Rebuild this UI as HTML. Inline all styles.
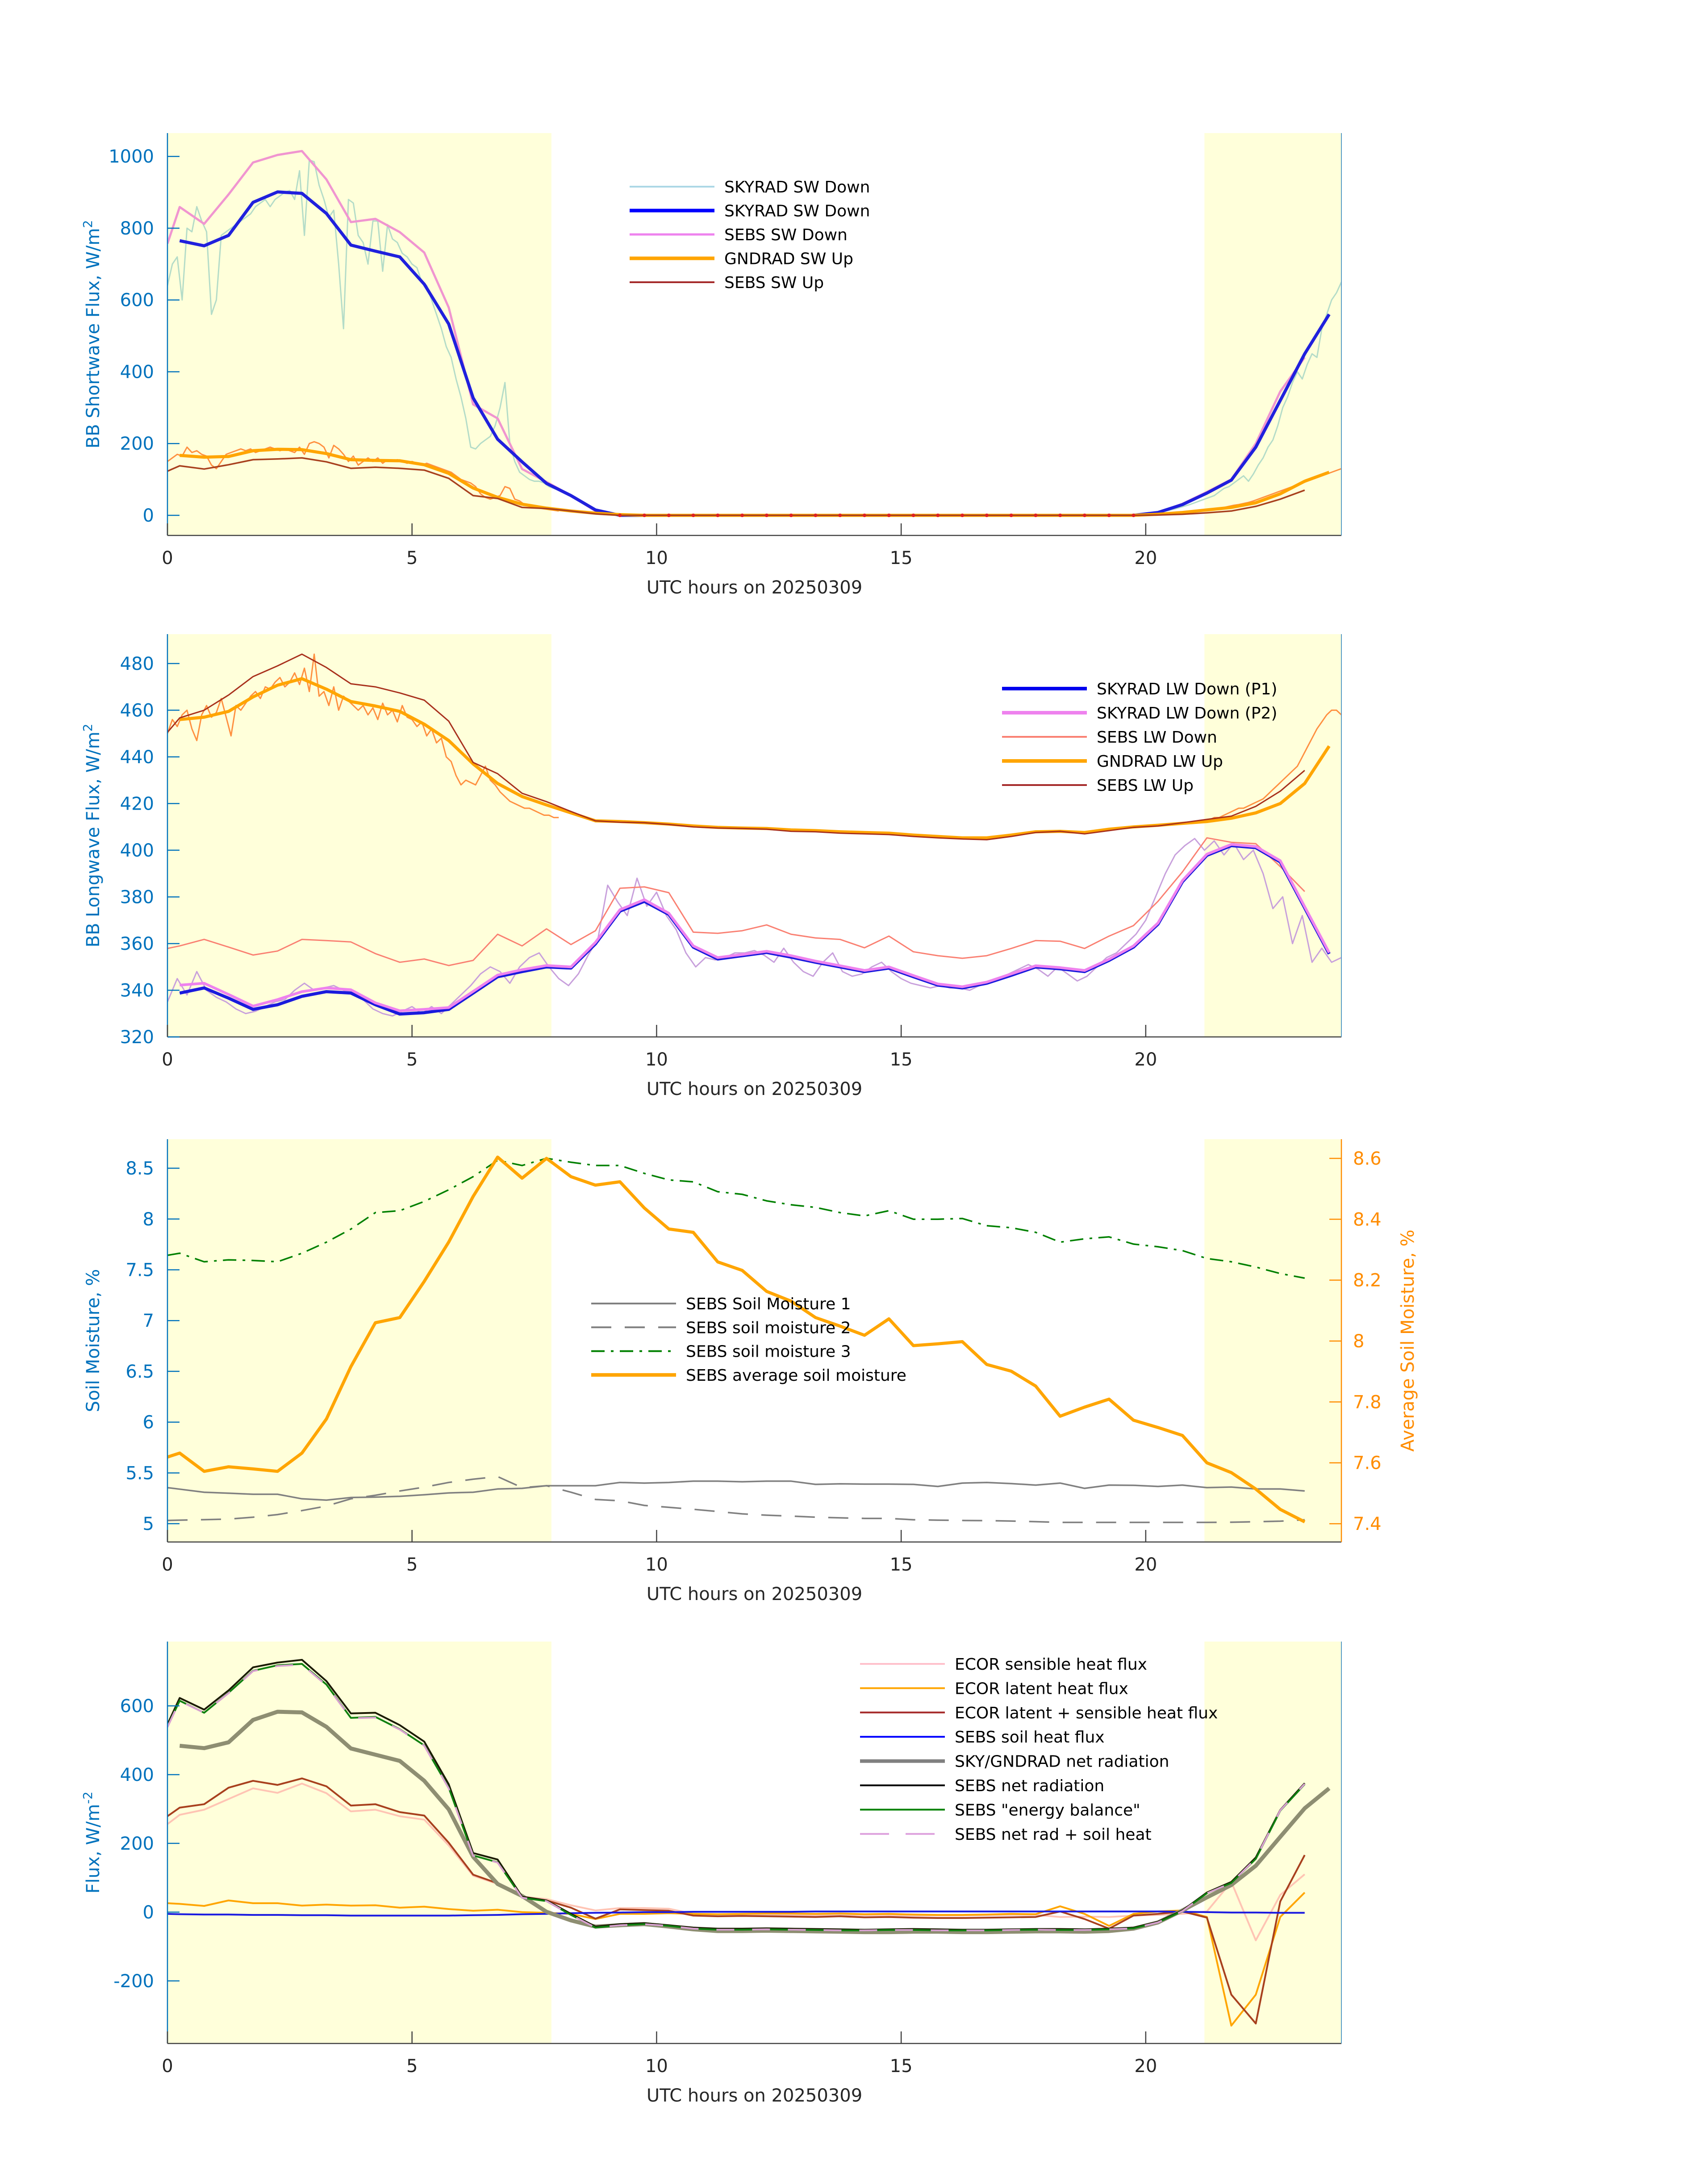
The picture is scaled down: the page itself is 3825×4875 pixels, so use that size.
<!DOCTYPE html>
<html><head><meta charset="utf-8"><style>
html,body{margin:0;padding:0;background:#fff;}
svg{display:block;font-family:"DejaVu Sans","Liberation Sans",sans-serif;}
</style></head><body>
<svg id="fig" xmlns="http://www.w3.org/2000/svg" width="3825" height="4875" viewBox="0 0 3825 4875"></svg>
<script>
// ---------- Panel 1: shortwave ----------
const sw_noisy_day = [640,700,720,600,800,790,860,820,790,560,600,780,790,800,810,820,830,840,860,870,880,860,880,890,900,905,880,960,780,990,985,920,880,830,850,700,520,880,870,780,760,700,820,820,680,810,770,760,730,720,700,690,650,640,600,560,520,470,440,380,330,270,190,185,200,210,220,250,300,370,200,150,120,110,100,95,95,90,80,75,70];
const sw_noisy_eve = [5,6,8,10,12,15,18,22,26,30,35,40,45,50,55,65,75,80,90,100,110,95,115,140,160,190,210,250,300,330,370,400,380,420,450,440,520,560,600,620,650];
const swup_noisy_day = [150,160,170,165,190,175,180,170,165,140,130,150,170,175,180,185,180,185,175,180,185,190,185,180,185,180,175,190,170,200,205,200,190,160,195,185,170,150,165,140,150,160,150,160,145,155,150,155,150,145,150,145,140,145,140,135,130,125,120,110,100,95,90,80,60,50,45,50,55,80,75,45,40,30,25,22,20,18,16,14,12];
const swup_noisy_eve = [2,2,3,3,4,5,5,6,8,10,12,14,15,16,18,20,22,25,28,30,33,36,40,45,50,55,60,65,70,75,80,85,90,95,100,105,110,115,120,125,130];
const hoursA = [0.25,0.75,1.25,1.75,2.25,2.75,3.25,3.75,4.25,4.75,5.25,5.75,6.25,6.75,7.25,7.75,8.25,8.75,9.25,9.75,10.25,10.75,11.25,11.75,12.25,12.75,13.25,13.75,14.25,14.75,15.25,15.75,16.25,16.75,17.25,17.75,18.25,18.75,19.25,19.75,20.25,20.75,21.25,21.75,22.25,22.75,23.25,23.75];
const hoursB = [0,0.25,0.75,1.25,1.75,2.25,2.75,3.25,3.75,4.25,4.75,5.25,5.75,6.25,6.75,7.25,7.75,8.25,8.75,9.25,9.75,10.25,10.75,11.25,11.75,12.25,12.75,13.25,13.75,14.25,14.75,15.25,15.75,16.25,16.75,17.25,17.75,18.25,18.75,19.25,19.75,20.25,20.75,21.25,21.75,22.25,22.75,23.25];
const skyrad_sw_down = [765,751,780,872,901,897,841,753,736,720,644,533,327,212,149,89,55,15,0,0,0,0,0,0,0,0,0,0,0,0,0,0,0,0,0,0,0,0,0,0,8,30,62,98,190,320,450,560];
const sebs_sw_down = [757,859,812,894,983,1004,1015,936,817,826,789,732,579,309,270,129,93,55,12,0,0,0,0,0,0,0,0,0,0,0,0,0,0,0,0,0,0,0,0,0,0,8,32,65,100,200,345,440];
const gndrad_sw_up = [167,162,164,180,184,183,172,155,153,152,141,117,76,50,31,20,12,6,2,0,0,0,0,0,0,0,0,0,0,0,0,0,0,0,0,0,0,0,0,0,3,8,15,22,35,60,95,120];
const sebs_sw_up = [123,138,129,141,155,157,160,149,131,134,131,126,103,55,47,22,19,12,4,0,0,0,0,0,0,0,0,0,0,0,0,0,0,0,0,0,0,0,0,0,0,1,3,7,12,25,45,70];
const sw_ticks = [0,200,400,600,800,1000];

// ---------- Panel 2: longwave ----------
const lw_noisy = [335,345,338,348,340,337,335,332,330,331,333,335,336,340,343,340,341,342,340,339,336,332,330,329,331,333,330,333,330,334,338,342,347,350,348,343,350,354,356,350,345,342,347,355,362,385,378,372,388,376,382,372,366,356,350,354,353,354,356,356,357,355,352,358,352,348,346,352,356,348,346,347,350,352,348,345,343,342,341,342,341,341,340,342,343,345,347,349,351,349,346,350,347,344,346,350,354,356,360,364,370,380,390,398,402,405,400,404,398,403,396,400,390,375,380,360,372,352,358,352,354];
const lwup_noisy_day = [450,456,453,458,460,452,447,458,462,457,459,465,457,449,462,460,463,466,468,465,470,469,472,474,470,472,476,471,478,468,484,466,468,462,470,460,466,464,462,460,462,458,461,456,463,458,460,455,462,457,456,453,455,449,452,446,448,440,438,432,428,430,429,428,432,436,430,428,425,423,421,420,419,418,418,417,416,415,415,414,414];
const lwup_noisy_eve = [412,412,413,413,414,414,415,416,417,418,418,419,420,421,422,424,426,428,430,432,434,436,440,444,448,452,455,458,460,460,458];
const skyrad_lw_p1 = [338.8,341,336.6,331.8,333.8,337.4,339.4,338.8,333.8,329.8,330.4,331.8,338.8,345.8,348,350,349.5,359.9,373.9,378.1,372.5,358.5,353.4,354.8,356.2,354.2,352,350,348,349.5,345.8,342.2,341,343,346.4,350,349.2,348,352.8,358.5,368.3,386.5,397.8,402,401.1,395,375.3,355.6];
const skyrad_lw_p2 = [342.2,343,338.2,333.2,336,339.4,341,340.2,334.6,331.2,331.8,332.6,339.5,346.5,348.8,350.6,350,360.5,374.5,378.8,373,359,354,355.3,356.7,354.8,352.5,350.5,348.5,350,346.3,342.7,341.5,343.5,347,350.5,349.7,348.5,353.3,359,368.8,387,398.3,402.5,401.6,395.5,375.8,356.1];
const sebs_lw_down = [357.9,359,361.8,358.5,355.1,356.8,361.8,361.3,360.7,355.7,352,353.4,350.6,352.8,364,359,366.3,359.6,365.5,383.7,384.3,381.8,364.9,364.4,365.5,368,364,362.4,361.8,358.2,363.2,356.5,354.8,353.7,354.8,357.9,361.3,361,357.9,363.2,367.7,378.1,390.7,405.3,403.4,402.8,393,382.3];
const gndrad_lw_up = [456,457,459.5,465.7,470.7,473.5,469,463.7,461.8,459.5,454,447,437,428.6,423,419.4,416,412.6,412.3,411.8,411.2,410.4,409.8,409.5,409.3,408.7,408.4,407.9,407.6,407.3,406.5,405.9,405.3,405.3,406.5,407.9,408.1,407.6,409,410,410.7,411.5,412.3,413.7,416,420,428.6,444.6];
const sebs_lw_up = [450.5,456.7,460,466.5,474.4,479,484,478.3,471.3,470,467.4,464.3,455.3,437.6,432.8,424.4,420.8,416.6,412.6,412,411.8,411,410,409.5,409.3,409,408.1,407.9,407.3,407,406.7,405.9,405.3,404.8,404.5,405.9,407.6,408.1,407,408.4,409.8,410.4,411.8,413.2,414.6,418.8,425.3,434.2];
const lw_ticks = [320,340,360,380,400,420,440,460,480];

// ---------- Panel 3: soil moisture ----------
const sm1 = [5.355,5.34,5.31,5.30,5.29,5.29,5.245,5.232,5.258,5.262,5.27,5.285,5.303,5.31,5.342,5.348,5.374,5.374,5.374,5.406,5.40,5.406,5.419,5.419,5.413,5.419,5.419,5.387,5.393,5.39,5.39,5.387,5.367,5.4,5.406,5.395,5.38,5.4,5.348,5.38,5.378,5.367,5.38,5.355,5.361,5.342,5.342,5.322];
const sm2 = [5.032,5.035,5.04,5.045,5.064,5.09,5.129,5.174,5.245,5.28,5.322,5.36,5.406,5.438,5.464,5.355,5.374,5.31,5.239,5.226,5.18,5.161,5.142,5.12,5.097,5.084,5.075,5.064,5.058,5.052,5.052,5.039,5.035,5.032,5.03,5.026,5.02,5.013,5.013,5.013,5.013,5.013,5.013,5.013,5.015,5.019,5.025,5.039];
const sm3 = [7.643,7.663,7.579,7.598,7.592,7.579,7.663,7.772,7.901,8.063,8.082,8.173,8.288,8.417,8.578,8.527,8.598,8.559,8.527,8.527,8.449,8.385,8.366,8.269,8.243,8.179,8.14,8.114,8.063,8.03,8.082,7.998,7.998,8.005,7.934,7.914,7.869,7.772,7.805,7.824,7.753,7.727,7.689,7.611,7.579,7.527,7.463,7.418];
const sm_avg = [7.619,7.632,7.572,7.587,7.58,7.572,7.632,7.744,7.916,8.06,8.077,8.196,8.325,8.475,8.604,8.535,8.6,8.54,8.512,8.523,8.437,8.368,8.357,8.26,8.232,8.163,8.131,8.077,8.049,8.019,8.073,7.985,7.991,7.998,7.923,7.901,7.852,7.753,7.783,7.809,7.74,7.716,7.69,7.6,7.568,7.514,7.447,7.406];
const sm_ticks = [5,5.5,6,6.5,7,7.5,8,8.5];
const sm_tick_labels = ["5","5.5","6","6.5","7","7.5","8","8.5"];
const avg_ticks = [7.4,7.6,7.8,8,8.2,8.4,8.6];
const avg_tick_labels = ["7.4","7.6","7.8","8","8.2","8.4","8.6"];

// ---------- Panel 4: fluxes ----------
const ecor_sensible = [256,283,298,329,360,347,374,346,293,298,279,269,194,106,82,45,38,20,5,12,12,10,-5,-6,-6,-7,-8,-9,-8,-9,-9,-10,-10,-10,-9,-8,-8,-14,-13,-14,-10,-8,-5,2,88,-82,50,110];
const ecor_latent = [26,24,18,34,26,26,19,22,19,20,13,16,9,4,7,0,-2,-5,-20,-5,-5,-3,-5,-6,-5,-4,-4,-5,-4,-6,-5,-7,-8,-8,-7,-5,-6,17,-5,-40,-5,2,5,-14,-330,-240,-14,57];
const ecor_total = [279,304,314,362,382,370,389,366,310,314,291,281,202,109,84,45,34,13,-19,8,6,4,-10,-12,-11,-12,-13,-14,-12,-15,-14,-16,-17,-17,-16,-15,-14,2,-20,-48,-10,-5,2,-16,-240,-324,31,166];
const sebs_soil_heat = [-5,-6,-7,-7,-8,-8,-9,-9,-10,-10,-10,-10,-10,-9,-8,-6,-5,-3,-2,-1,0,0,1,1,1,1,1,2,2,2,2,2,2,2,2,2,2,2,2,2,2,2,1,0,-1,-1,-2,-2];
const skygnd_net = [484,477,494,559,583,581,539,476,458,440,382,299,161,82,47,1,-24,-42,-38,-35,-42,-50,-55,-55,-54,-55,-56,-57,-58,-58,-57,-57,-58,-58,-57,-56,-56,-57,-55,-48,-30,5,43,79,135,219,302,360];
const sebs_net = [546,623,589,645,712,726,734,672,578,580,544,496,372,172,153,45,34,-5,-42,-35,-32,-38,-45,-48,-48,-47,-48,-49,-50,-51,-50,-49,-50,-51,-51,-50,-49,-49,-50,-48,-45,-28,5,57,88,159,297,375];
const sebs_energy = [540,615,580,638,702,718,722,662,565,568,532,485,362,165,145,42,32,-8,-45,-38,-35,-40,-48,-51,-51,-50,-51,-52,-53,-53,-52,-52,-53,-53,-53,-52,-51,-52,-52,-50,-47,-30,3,55,85,155,295,372];
const sebs_netrad_soil = [538,614,580,637,701,716,720,660,564,566,531,484,360,164,144,42,32,-8,-45,-38,-35,-40,-48,-51,-51,-50,-51,-52,-53,-53,-52,-52,-53,-53,-53,-52,-51,-52,-52,-50,-47,-30,3,55,85,156,296,373];
const flux_ticks = [-200,0,200,400,600];

const x_ticks = [0,5,10,15,20];
const night_start = 7.85, night_end = 21.2;

// ---------- rendering ----------
const NS = "http://www.w3.org/2000/svg";
const svg = document.getElementById('fig');
const L = 375, R = 3004, XMIN = 0, XMAX = 24;
const sx = h => L + (h - XMIN) / (XMAX - XMIN) * (R - L);
function mk(tag, attrs, parent) {
  const e = document.createElementNS(NS, tag);
  for (const k in attrs) e.setAttribute(k, attrs[k]);
  (parent || svg).appendChild(e);
  return e;
}
function yscale(top, bottom, ymin, ymax) { return v => bottom - (v - ymin) / (ymax - ymin) * (bottom - top); }
function seq(t0, dt, n) { const a = []; for (let i = 0; i < n; i++) a.push(t0 + i * dt); return a; }
function series(g, xs, ys, sy, color, w, name, dash) {
  let d = '';
  for (let i = 0; i < ys.length; i++) d += (i ? 'L' : 'M') + sx(xs[i]).toFixed(1) + ' ' + sy(ys[i]).toFixed(1);
  const p = mk('path', {d: d, fill: 'none', stroke: color, 'stroke-width': w, 'stroke-linejoin': 'round'}, g);
  if (dash) p.setAttribute('stroke-dasharray', dash);
  
  
  return p;
}
function panel(id, top, bottom, ymin, ymax, ticks, labels, ytitle, rightColor) {
  const g = mk('g', {});
  
  
  const sy = yscale(top, bottom, ymin, ymax);
  const bg1 = mk('rect', {x: L, y: top, width: sx(night_start) - L, height: bottom - top, fill: '#FFFFDA'}, g);
  
  
  const bg2 = mk('rect', {x: sx(night_end), y: top, width: R - sx(night_end), height: bottom - top, fill: '#FFFFDA'}, g);
  
  
  const cid = 'clip-' + id;
  const cp = mk('clipPath', {id: cid}, g);
  mk('rect', {x: L, y: top, width: R - L, height: bottom - top}, cp);
  const plot = mk('g', {'clip-path': 'url(#' + cid + ')'}, g);
  
  
  // axes
  const axl = mk('line', {x1: L, y1: top, x2: L, y2: bottom, stroke: '#0072BD', 'stroke-width': 2.5}, g);
  
  
  const axb = mk('line', {x1: L, y1: bottom, x2: R, y2: bottom, stroke: '#404040', 'stroke-width': 2.5}, g);
  
  
  const axr = mk('line', {x1: R, y1: top, x2: R, y2: bottom, stroke: rightColor || '#5a9cc8', 'stroke-width': rightColor ? 2.5 : 2}, g);
  
  
  ticks.forEach((v, i) => {
    const y = sy(v);
    mk('line', {x1: L, y1: y, x2: L + 27, y2: y, stroke: '#0072BD', 'stroke-width': 2.5}, g);
    const t = mk('text', {x: 345, y: y + 14, 'text-anchor': 'end', 'font-size': 40, fill: '#0072BD'}, g);
    t.textContent = labels ? labels[i] : String(v);
    
    
  });
  x_ticks.forEach(v => {
    const x = sx(v);
    mk('line', {x1: x, y1: bottom, x2: x, y2: bottom - 27, stroke: '#404040', 'stroke-width': 2.5}, g);
    const t = mk('text', {x: x, y: bottom + 64, 'text-anchor': 'middle', 'font-size': 40, fill: '#262626'}, g);
    t.textContent = String(v);
    
    
  });
  const xt = mk('text', {x: (L + R) / 2, y: bottom + 130, 'text-anchor': 'middle', 'font-size': 40, fill: '#262626'}, g);
  xt.textContent = 'UTC hours on 20250309';
  
  
  const cy = (top + bottom) / 2;
  const yt = mk('text', {x: 0, y: 0, 'text-anchor': 'middle', 'font-size': 40, fill: '#0072BD', transform: 'translate(222,' + cy + ') rotate(-90)'}, g);
  yt.innerHTML = ytitle;
  
  
  return {g: g, plot: plot, sy: sy};
}
function legend(g, x0, y0, step, entries) {
  const lg = mk('g', {}, g);
  
  
  entries.forEach((e, i) => {
    const y = y0 + i * step;
    const ln = mk('line', {x1: x0, y1: y, x2: x0 + 190, y2: y, stroke: e[1], 'stroke-width': e[2]}, lg);
    if (e[3]) ln.setAttribute('stroke-dasharray', e[3]);
    
    
    const t = mk('text', {x: x0 + 212, y: y + 13, 'font-size': 36, fill: '#000'}, lg);
    t.textContent = e[0];
    
    
  });
}

// Panel 1
(function(){
  const P = panel('shortwave-panel', 298, 1199, -56, 1065, sw_ticks, null, 'BB Shortwave Flux, W/m<tspan dy="-16" font-size="28">2</tspan>');
  const sy = P.sy, g = P.plot;
  series(g, seq(0, 0.1, sw_noisy_day.length), sw_noisy_day, sy, '#b4dcc8', 3, 'skyrad-sw-down-1min-morning');
  series(g, seq(20, 0.1, sw_noisy_eve.length), sw_noisy_eve, sy, '#b4dcc8', 3, 'skyrad-sw-down-1min-evening');
  series(g, seq(0, 0.1, swup_noisy_day.length), swup_noisy_day, sy, '#ff9040', 3, 'gndrad-sw-up-1min-morning');
  series(g, seq(20, 0.1, swup_noisy_eve.length), swup_noisy_eve, sy, '#ff9040', 3, 'gndrad-sw-up-1min-evening');
  series(g, hoursB, sebs_sw_down, sy, '#f095d0', 5, 'sebs-sw-down-line');
  series(g, hoursA, skyrad_sw_down, sy, '#2020dd', 7, 'skyrad-sw-down-line');
  series(g, hoursA, gndrad_sw_up, sy, '#ffa500', 7, 'gndrad-sw-up-line');
  series(g, hoursB, sebs_sw_up, sy, '#a8401e', 3.5, 'sebs-sw-up-line');
  hoursB.forEach((h, i) => {
    if (h > 9 && h < 20) {
      const c = mk('circle', {cx: sx(h), cy: sy(sebs_sw_up[i]), r: 4, fill: '#e02020'}, g);
      
      
    }
  });
  legend(P.g, 1410, 418, 53.5, [
    ['SKYRAD SW Down', '#add8e6', 4], ['SKYRAD SW Down', '#0000ff', 8], ['SEBS SW Down', '#ee82ee', 5],
    ['GNDRAD SW Up', '#ffa500', 8], ['SEBS SW Up', '#a52a2a', 4]]);
})();

// Panel 2
(function(){
  const P = panel('longwave-panel', 1420, 2322, 320, 492.6, lw_ticks, null, 'BB Longwave Flux, W/m<tspan dy="-16" font-size="28">2</tspan>');
  const sy = P.sy, g = P.plot;
  series(g, seq(0, 0.2, lw_noisy.length), lw_noisy, sy, '#c8a0dc', 3, 'skyrad-lw-down-1min');
  series(g, seq(0, 0.1, lwup_noisy_day.length), lwup_noisy_day, sy, '#ff9040', 3, 'gndrad-lw-up-1min-morning');
  series(g, seq(21, 0.1, lwup_noisy_eve.length), lwup_noisy_eve, sy, '#ff9040', 3, 'gndrad-lw-up-1min-evening');
  series(g, hoursB, sebs_lw_down, sy, '#fa8072', 3, 'sebs-lw-down-line');
  series(g, hoursA, skyrad_lw_p1, sy, '#1a1add', 7, 'skyrad-lw-down-p1-line');
  series(g, hoursA, skyrad_lw_p2, sy, '#ee82ee', 6, 'skyrad-lw-down-p2-line');
  series(g, hoursA, gndrad_lw_up, sy, '#ffa500', 7, 'gndrad-lw-up-line');
  series(g, hoursB, sebs_lw_up, sy, '#a8301c', 3, 'sebs-lw-up-line');
  legend(P.g, 2244, 1542, 54, [
    ['SKYRAD LW Down (P1)', '#0000ee', 8], ['SKYRAD LW Down (P2)', '#ee82ee', 8], ['SEBS LW Down', '#fa8072', 4],
    ['GNDRAD LW Up', '#ffa500', 8], ['SEBS LW Up', '#a52a2a', 4]]);
})();

// Panel 3
(function(){
  const top = 2551, bottom = 3453;
  const P = panel('soil-moisture-panel', top, bottom, 4.82, 8.786, sm_ticks, sm_tick_labels, 'Soil Moisture, %', '#ff8c00');
  const sy = P.sy, g = P.plot;
  const sy2 = yscale(top, bottom, 7.34, 8.663);
  avg_ticks.forEach((v, i) => {
    const y = sy2(v);
    mk('line', {x1: R, y1: y, x2: R - 27, y2: y, stroke: '#ff8c00', 'stroke-width': 2.5}, P.g);
    const t = mk('text', {x: 3030, y: y + 14, 'font-size': 40, fill: '#ff8c00'}, P.g);
    t.textContent = avg_tick_labels[i];
    
    
  });
  const rt = mk('text', {x: 0, y: 0, 'text-anchor': 'middle', 'font-size': 40, fill: '#ff8c00', transform: 'translate(3166,' + (top + bottom) / 2 + ') rotate(-90)'}, P.g);
  rt.textContent = 'Average Soil Moisture, %';
  
  
  series(g, hoursB, sm1, sy, '#808080', 3.5, 'soil-moisture-1-line');
  series(g, hoursB, sm2, sy, '#808080', 3.5, 'soil-moisture-2-line', '45,30');
  series(g, hoursB, sm3, sy, '#008000', 3.5, 'soil-moisture-3-line', '30,14,6,14');
  series(g, hoursB, sm_avg, sy2, '#ffa500', 7, 'average-soil-moisture-line');
  legend(P.g, 1324, 2919, 53.3, [
    ['SEBS Soil Moisture 1', '#808080', 4], ['SEBS soil moisture 2', '#808080', 4, '45,30'],
    ['SEBS soil moisture 3', '#008000', 4, '30,14,6,14'], ['SEBS average soil moisture', '#ffa500', 8]]);
})();

// Panel 4
(function(){
  const P = panel('flux-panel', 3676, 4576, -382, 787, flux_ticks, null, 'Flux, W/m<tspan dy="-16" font-size="28">-2</tspan>');
  const sy = P.sy, g = P.plot;
  series(g, hoursB, ecor_sensible, sy, '#ffc4b4', 4, 'ecor-sensible-line');
  series(g, hoursB, ecor_latent, sy, '#ffa500', 4, 'ecor-latent-line');
  series(g, hoursB, ecor_total, sy, '#a8401e', 4, 'ecor-total-line');
  series(g, hoursB, sebs_soil_heat, sy, '#1a1ae0', 4, 'sebs-soil-heat-line');
  series(g, hoursA, skygnd_net, sy, '#8e8e72', 9, 'skygnd-net-radiation-line');
  series(g, hoursB, sebs_net, sy, '#1a1a00', 4, 'sebs-net-radiation-line');
  series(g, hoursB, sebs_energy, sy, '#108010', 4, 'sebs-energy-balance-line');
  series(g, hoursB, sebs_netrad_soil, sy, '#d8a0d0', 4, 'sebs-netrad-soil-line', '40,40');
  legend(P.g, 1926, 3726, 54.4, [
    ['ECOR sensible heat flux', '#ffc0cb', 4], ['ECOR latent heat flux', '#ffa500', 4],
    ['ECOR latent + sensible heat flux', '#a52a2a', 4], ['SEBS soil heat flux', '#0000ff', 4],
    ['SKY/GNDRAD net radiation', '#808080', 8], ['SEBS net radiation', '#000000', 4],
    ['SEBS "energy balance"', '#008000', 4], ['SEBS net rad + soil heat', '#dda0dd', 4, '65,37']]);
})();
</script>
</body></html>
